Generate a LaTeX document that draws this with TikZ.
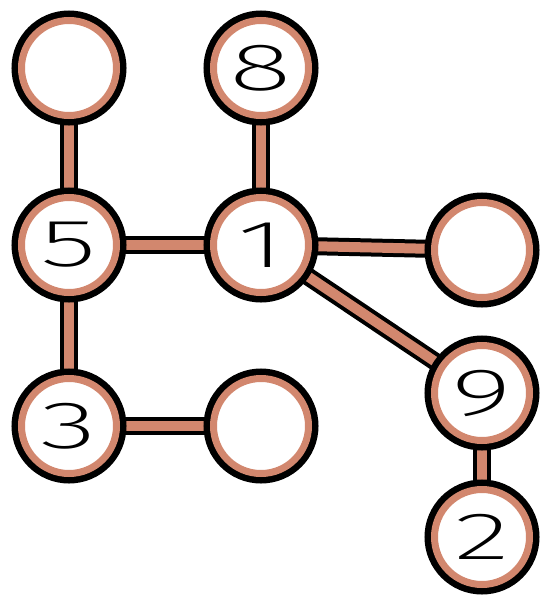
\documentclass[tikz,border=0pt]{standalone}
\usepackage{fontspec}
\newfontfamily\digfont[FakeStretch=1.75, UprightFont=* ExtraLight]{Fira Sans}
\usetikzlibrary{backgrounds}
\definecolor{salmon}{RGB}{210,135,110}
\tikzset{
  vert/.style={circle, inner sep=0pt, minimum size=95pt, fill=white, draw=salmon, line width=7pt,
    preaction={draw=black, line width=20pt},
    font=\digfont\fontsize{67}{67}\selectfont, text=black},
  link/.style={draw=black, line width=4pt, double=salmon, double distance=10pt}
}
\begin{document}
\begin{tikzpicture}[x=1pt,y=-1pt]
\useasboundingbox (0,0) rectangle (556,608);
\node[vert] (tl) at (69,68) {};
\node[vert] (n8) at (261,68) {8};
\node[vert] (n5) at (69,245) {5};
\node[vert] (n1) at (261,245) {1};
\node[vert] (r) at (482,250) {};
\node[vert] (n9) at (482,393) {9};
\node[vert] (n3) at (69,426) {3};
\node[vert] (e3) at (261,426) {};
\node[vert] (n2) at (482,537) {2};
\begin{pgfonlayer}{background}
\draw[link] (tl) -- (n5);
\draw[link] (n8) -- (n1);
\draw[link] (n5) -- (n1);
\draw[link] (n1) -- (r);
\draw[link] (n1) -- (n9);
\draw[link] (n5) -- (n3);
\draw[link] (n3) -- (e3);
\draw[link] (n9) -- (n2);
\end{pgfonlayer}
\end{tikzpicture}
\end{document}
